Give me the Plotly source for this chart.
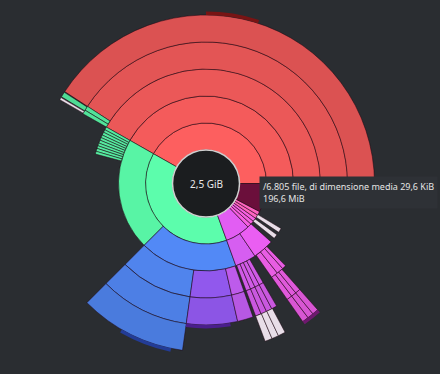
import plotly.graph_objects as go

# ---------------- data (sizes in MiB) ----------------
TOTAL_MIB = 2560            # 2,5 GiB
CENTER_LABEL = "2,5 GiB"
TOOLTIP_TEXT = ["/6.805 file, di dimensione media 29,6 KiB", "196,6 MiB"]

# each ring: consecutive slices going counter-clockwise from 3 o'clock; "gap" = unlisted space
ring1_sizes = [1070, 992, 171, 28, 25, 25, 26, 26.4, 196.6]
ring1_kinds = ["red", "green", "magenta", "hotpink", "hotpink", "hotpink", "pink", "pink", "maroon"]

ring2_sizes = [1070, 530, 462, 100, 100, 22, 21, 14, 21]
ring2_kinds = ["red", "green", "blue", "lilac", "magenta2", "gap", "white", "gap", "white"]

ring3_sizes = [1070, 11, 10, 11, 10, 10, 11, 10, 10, 11, 10, 426, 263, 149, 46, 8,
               17, 17, 17, 16, 36, 25, 25, 14]
ring3_kinds = ["red"] + ["green"] * 10 + ["gap", "blue", "purple", "violet", "gap"] + \
              ["orchid"] * 4 + ["gap"] + ["fuchsia"] * 3

ring4_sizes = [1045, 13, 12, 530, 263, 149, 46, 8, 17, 17, 17, 16, 36, 16, 15, 15]
ring4_kinds = ["red", "green", "green", "gap", "blue", "purple", "violet", "gap"] + \
              ["orchid"] * 4 + ["gap"] + ["fuchsia"] * 3

ring5_sizes = [1045, 2, 13, 2, 6, 532, 263, 203, 18, 17, 18, 50, 16, 15, 15]
ring5_kinds = ["red", "gap", "green", "gap", "white", "gap", "blue", "gap",
               "white", "white", "white", "gap", "fuchsia", "fuchsia", "fuchsia"]

# tiny (sub-pixel depth) entries shown as thin dark rims
rim4_sizes = [1863, 127]
rim4_kinds = ["gap", "darkpurple"]
rim5_sizes = [512, 128, 1067, 128, 334, 46]
rim5_kinds = ["gap", "darkred", "gap", "darkblue", "gap", "darkmagenta"]

# ---------------- styles ----------------
BASE_COLORS = {
    "red": (253, 95, 95), "green": (92, 253, 172), "blue": (86, 142, 255),
    "purple": (156, 95, 255), "violet": (204, 98, 253), "orchid": (224, 98, 249),
    "fuchsia": (250, 100, 244), "lilac": (222, 98, 250), "magenta": (226, 93, 243),
    "magenta2": (243, 98, 251), "hotpink": (247, 96, 226), "pink": (255, 99, 192),
}
FIXED_COLORS = {
    "maroon": "rgb(107,15,59)", "white": "rgb(232,222,232)",
    "darkpurple": "rgb(74,30,140)", "darkred": "rgb(120,20,20)",
    "darkblue": "rgb(35,60,150)", "darkmagenta": "rgb(110,25,110)",
}
R0 = 33.5       # hole radius (px)
RING_W = 27.0   # ring thickness (px)
RIM_W = 3.5


def color_for(kind, level):
    if kind in FIXED_COLORS:
        return FIXED_COLORS[kind]
    f = 0.965 ** (level - 1)
    r, g, b = BASE_COLORS[kind]
    return f"rgb({int(r * f)},{int(g * f)},{int(b * f)})"


def ring_trace(sizes, kinds, base, thick, level, line_w=0.8):
    thetas, widths, cols = [], [], []
    pos = 0.0
    for s, k in zip(sizes, kinds):
        if k != "gap":
            thetas.append((pos + s / 2) / TOTAL_MIB * 360)
            widths.append(s / TOTAL_MIB * 360)
            cols.append(color_for(k, level))
        pos += s
    n = len(thetas)
    return go.Barpolar(
        r=[thick] * n, base=[base] * n, theta=thetas, width=widths,
        marker=dict(color=cols, line=dict(color="rgba(30,8,20,0.65)", width=line_w)),
        hoverinfo="skip", showlegend=False,
    )


fig = go.Figure()
rings = [(ring1_sizes, ring1_kinds), (ring2_sizes, ring2_kinds), (ring3_sizes, ring3_kinds),
         (ring4_sizes, ring4_kinds), (ring5_sizes, ring5_kinds)]
for i, (s, k) in enumerate(rings):
    fig.add_trace(ring_trace(s, k, R0 + i * RING_W, RING_W, i + 1))
fig.add_trace(ring_trace(rim4_sizes, rim4_kinds, R0 + 4 * RING_W, RIM_W, 5, 0))
fig.add_trace(ring_trace(rim5_sizes, rim5_kinds, R0 + 5 * RING_W, RIM_W, 6, 0))

# centre disk
fig.add_trace(go.Barpolar(r=[R0], base=[0], theta=[180], width=[360],
                          marker=dict(color="#1b1d1f", line=dict(color="#d0d0d0", width=1.5)),
                          hoverinfo="skip", showlegend=False))

W, H = 440, 374
CX, CY, S = 206, 183.5, 180
fig.update_layout(
    width=W, height=H, autosize=False,
    margin=dict(l=0, r=0, t=0, b=0),
    paper_bgcolor="#2a2d31", plot_bgcolor="#2a2d31",
    showlegend=False, barmode="overlay",
    polar=dict(
        domain=dict(x=[(CX - S) / W, (CX + S) / W], y=[(H - CY - S) / H, (H - CY + S) / H]),
        bgcolor="rgba(0,0,0,0)", bargap=0,
        radialaxis=dict(visible=False, range=[0, S]),
        angularaxis=dict(visible=False, rotation=0, direction="counterclockwise"),
    ),
    font=dict(family="Noto Sans, Open Sans, sans-serif"),
    annotations=[
        dict(x=CX / W, y=(H - CY) / H, xref="paper", yref="paper", text=CENTER_LABEL,
             showarrow=False, font=dict(size=10, color="#e8e8e8"),
             xanchor="center", yanchor="middle"),
        dict(x=259 / W, y=(H - 176) / H, xref="paper", yref="paper",
             text="<br>".join(TOOLTIP_TEXT), align="left", showarrow=False,
             xanchor="left", yanchor="top", bgcolor="#2e3136", borderpad=3,
             font=dict(size=9, color="#e4e4e4")),
    ],
)
fig.write_html("out.html", config={"displayModeBar": False, "staticPlot": True})

# remove the browser's default page margin so the figure sits at the top-left corner
with open("out.html", encoding="utf-8") as fh:
    html = fh.read()
html = html.replace("<head>", "<head><style>html,body{margin:0;padding:0;background:#2a2d31;}</style>", 1)
with open("out.html", "w", encoding="utf-8") as fh:
    fh.write(html)
